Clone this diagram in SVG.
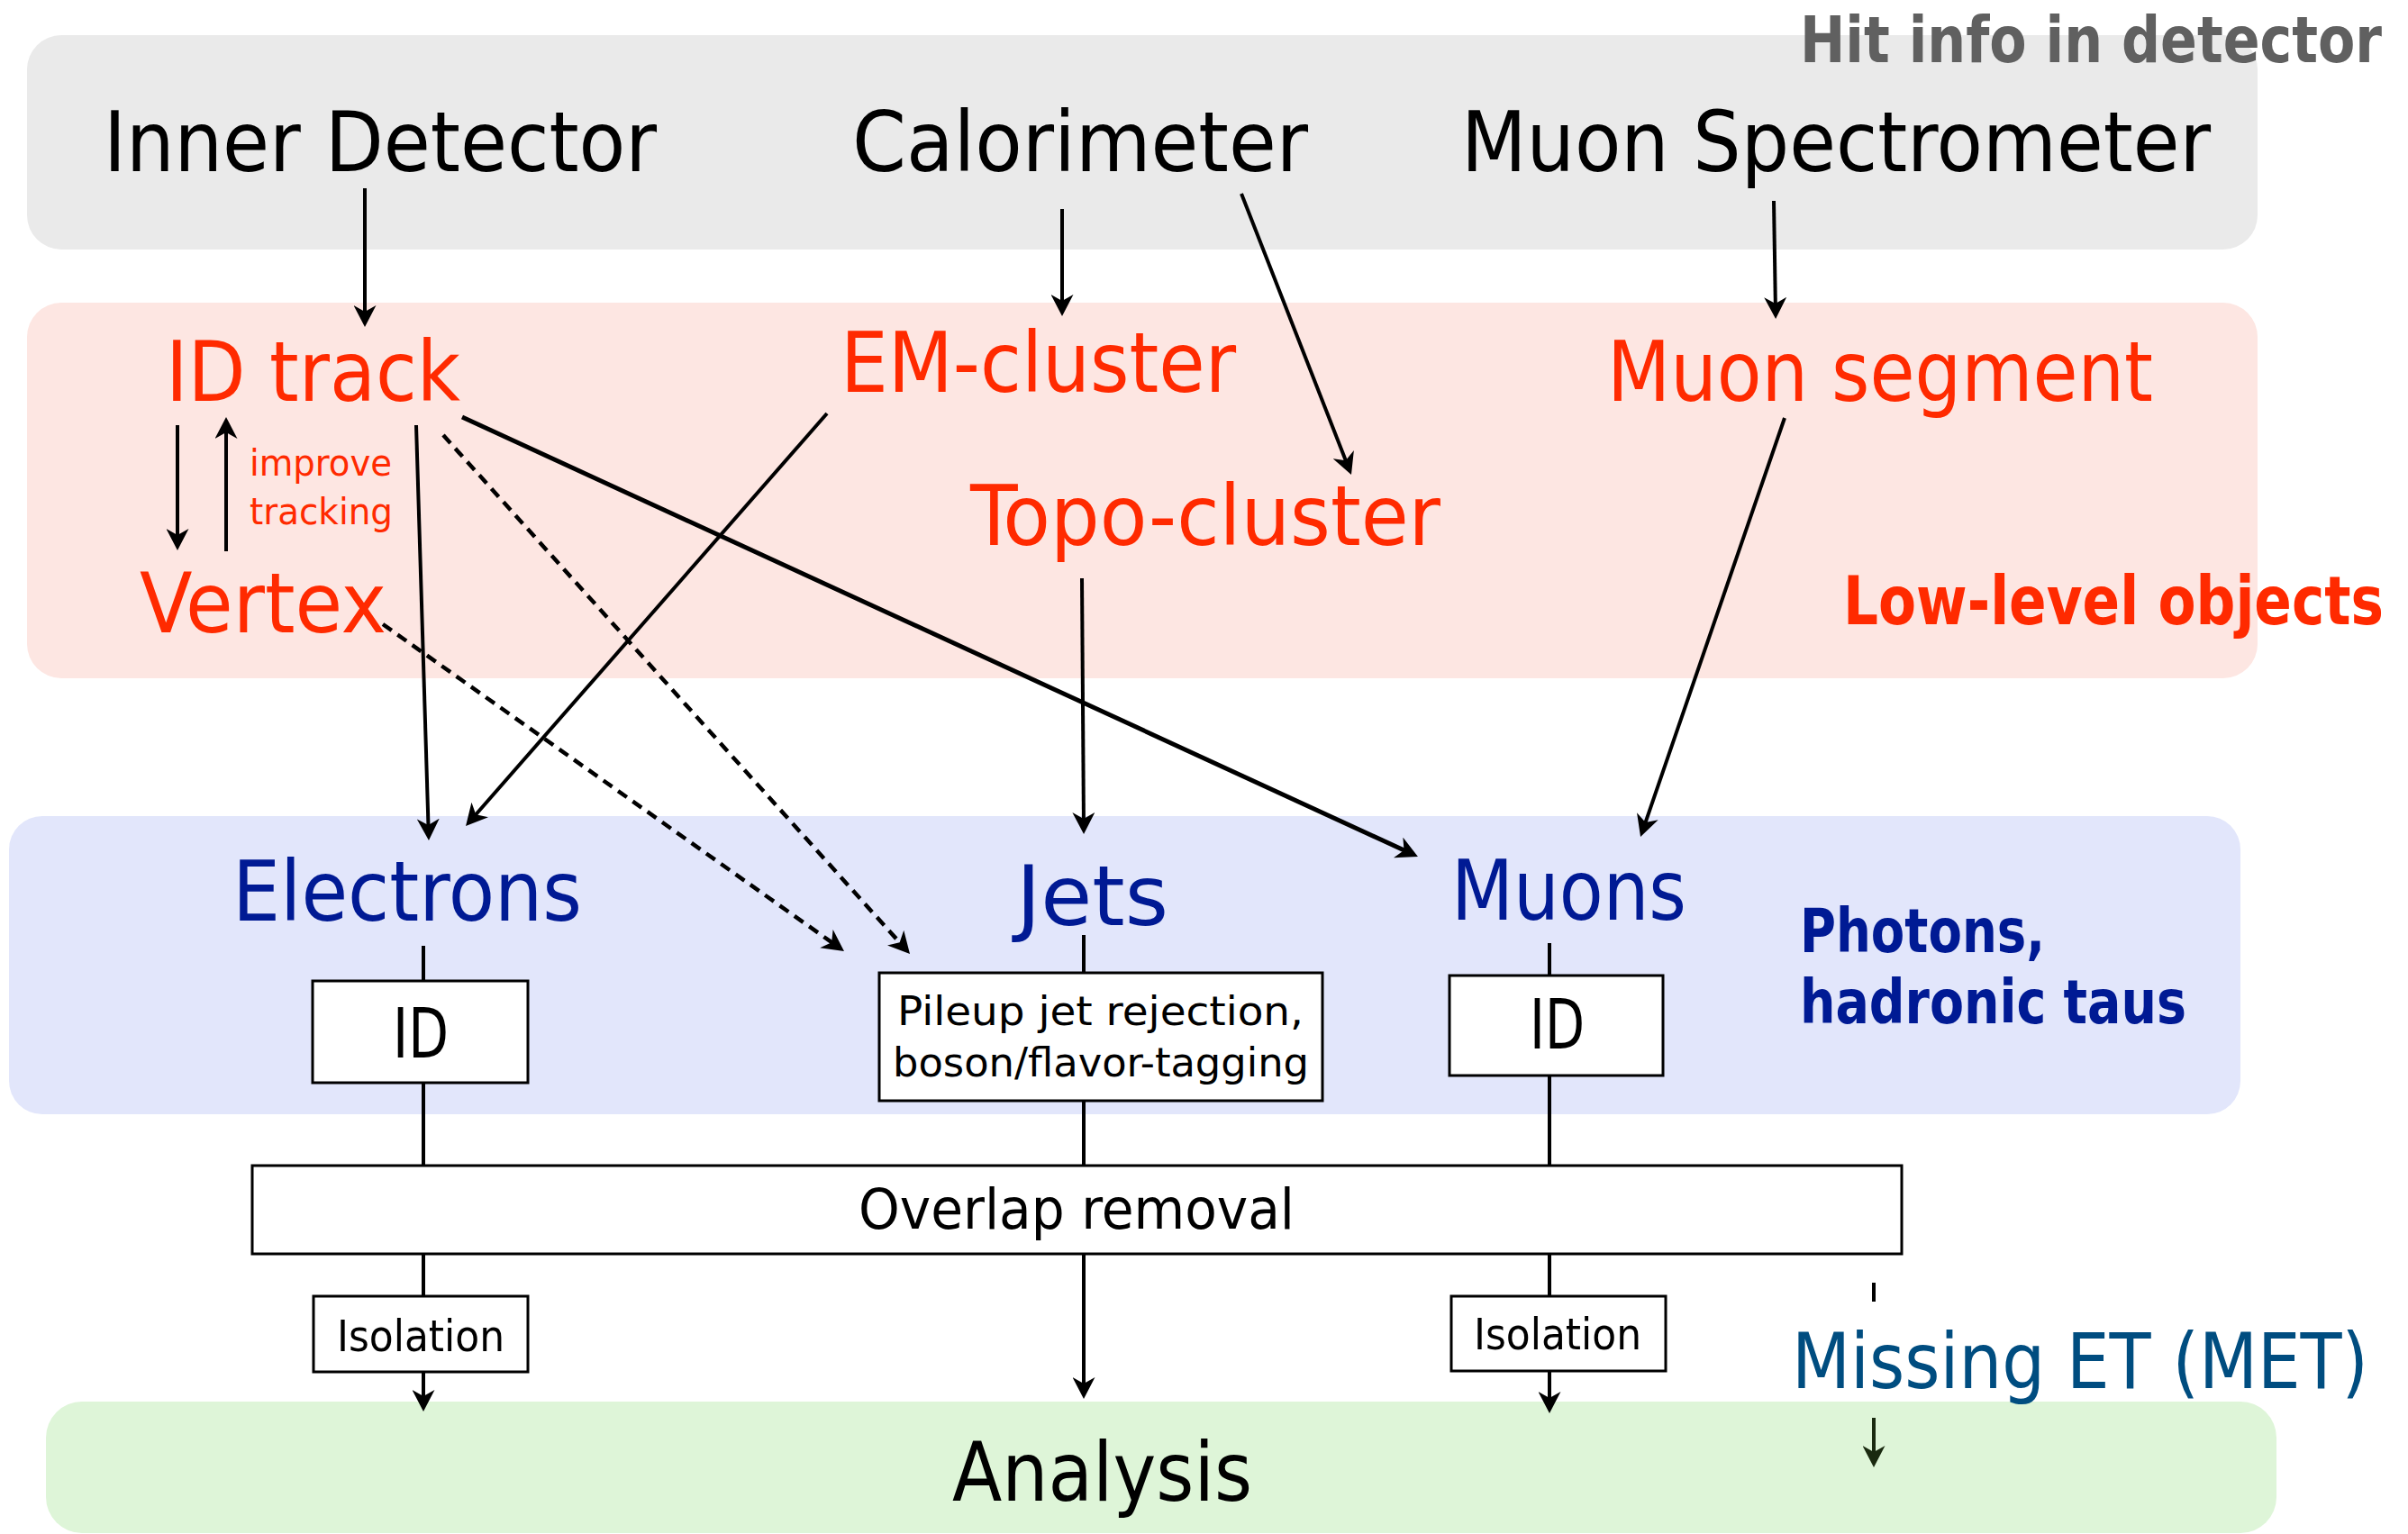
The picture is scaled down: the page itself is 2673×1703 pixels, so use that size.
<svg xmlns="http://www.w3.org/2000/svg" width="2673" height="1703" viewBox="0 0 2673 1703">
<style>
text{font-family:"DejaVu Sans Condensed","DejaVu Sans",sans-serif;}
.big{font-size:93px;}
.blk{fill:#000000;}
.red{fill:#FF2A00;}
.blu{fill:#001A94;}
.box{fill:#FFFFFF;stroke:#000000;stroke-width:3;}
.c{stroke:#000000;stroke-width:4;fill:none;}
.a{marker-end:url(#ah);}
.d{stroke-dasharray:12 8;stroke-width:4.5;}
</style>
<defs>
<marker id="ah" markerUnits="userSpaceOnUse" viewBox="0 0 24 25" markerWidth="24" markerHeight="25" refX="18" refY="12.5" orient="auto">
<path d="M0,0 L24,12.5 L0,25 L7,12.5 z" fill="#000000"/>
</marker>
<marker id="ahg" markerUnits="userSpaceOnUse" viewBox="0 0 24 25" markerWidth="24" markerHeight="25" refX="18" refY="12.5" orient="auto">
<path d="M0,0 L24,12.5 L0,25 L7,12.5 z" fill="#1A2A10"/>
</marker>
</defs>

<g id="layer-hit">
<rect x="30" y="39" width="2476" height="238" rx="38" ry="38" fill="#EAEAEA"/>
</g>
<g id="layer-low">
<rect x="30" y="336" width="2476" height="417" rx="38" ry="38" fill="#FDE6E2"/>
</g>
<g id="layer-obj">
<rect x="10" y="906" width="2477" height="331" rx="37" ry="37" fill="#E2E6FB"/>
</g>
<g id="layer-analysis">
<rect x="51" y="1556" width="2476" height="146" rx="40" ry="40" fill="#DEF5D8"/>
</g>

<g id="connectors">
<line class="c a" x1="405" y1="209" x2="405" y2="357"/>
<line class="c a" x1="1179" y1="232" x2="1179" y2="345"/>
<line class="c a" x1="1378" y1="215" x2="1497.8" y2="521.4"/>
<line class="c a" x1="1969" y1="223" x2="1971" y2="348"/>
<line class="c a" x1="197" y1="472" x2="197" y2="605"/>
<line class="c a" x1="251" y1="612" x2="251" y2="469"/>
<line class="c a" x1="462" y1="472" x2="475.8" y2="927"/>
<line class="c a" x1="918" y1="459" x2="521" y2="912.5"/>
<line class="c a" style="stroke-width:5" x1="513" y1="463" x2="1568.5" y2="948.5"/>
<line class="c a d" x1="492" y1="483" x2="1006" y2="1054.5"/>
<line class="c a d" x1="425" y1="693" x2="932.1" y2="1052.5"/>
<line class="c a" x1="1201" y1="642" x2="1203" y2="920"/>
<line class="c a" x1="1981" y1="464" x2="1823" y2="923.3"/>
<line class="c" x1="470" y1="1050" x2="470" y2="1089"/>
<line class="c" x1="470" y1="1202" x2="470" y2="1294"/>
<line class="c" x1="470" y1="1392" x2="470" y2="1439"/>
<line class="c a" x1="470" y1="1523" x2="470" y2="1561"/>
<line class="c" x1="1203" y1="1038" x2="1203" y2="1080"/>
<line class="c" x1="1203" y1="1222" x2="1203" y2="1294"/>
<line class="c a" x1="1203" y1="1392" x2="1203" y2="1547"/>
<line class="c" x1="1720" y1="1047" x2="1720" y2="1083"/>
<line class="c" x1="1720" y1="1194" x2="1720" y2="1294"/>
<line class="c" x1="1720" y1="1392" x2="1720" y2="1439"/>
<line class="c a" x1="1720" y1="1522" x2="1720" y2="1563"/>
<line class="c" x1="2080" y1="1424" x2="2080" y2="1445"/>
<line class="c" style="stroke:#1A2A10;marker-end:url(#ahg)" x1="2080" y1="1574" x2="2080" y2="1623"/>
</g>

<g id="label-hit">
<text x="1998" y="69" font-size="71" font-weight="bold" fill="#606060" textLength="646" lengthAdjust="spacingAndGlyphs">Hit info in detector</text>
</g>
<g id="node-inner-detector">
<text class="big blk" x="115" y="190" textLength="614" lengthAdjust="spacingAndGlyphs">Inner Detector</text>
</g>
<g id="node-calorimeter">
<text class="big blk" x="946" y="190" textLength="506" lengthAdjust="spacingAndGlyphs">Calorimeter</text>
</g>
<g id="node-muon-spectrometer">
<text class="big blk" x="1622" y="190" textLength="832" lengthAdjust="spacingAndGlyphs">Muon Spectrometer</text>
</g>

<g id="node-id-track">
<text class="big red" x="184" y="445" textLength="327" lengthAdjust="spacingAndGlyphs">ID track</text>
</g>
<g id="node-em-cluster">
<text class="big red" x="933" y="435" textLength="439" lengthAdjust="spacingAndGlyphs">EM-cluster</text>
</g>
<g id="node-muon-segment">
<text class="big red" x="1784" y="445" textLength="606" lengthAdjust="spacingAndGlyphs">Muon segment</text>
</g>
<g id="node-topo-cluster">
<text class="big red" x="1077" y="605" textLength="522" lengthAdjust="spacingAndGlyphs">Topo-cluster</text>
</g>
<g id="node-vertex">
<text class="big red" x="155" y="702" textLength="274" lengthAdjust="spacingAndGlyphs">Vertex</text>
</g>
<g id="label-improve">
<text class="red" x="277" y="528" font-size="40" textLength="158" lengthAdjust="spacingAndGlyphs">improve</text>
<text class="red" x="277" y="582" font-size="40" textLength="159" lengthAdjust="spacingAndGlyphs">tracking</text>
</g>
<g id="label-low-level">
<text class="red" x="2046" y="693" font-size="74" font-weight="bold" textLength="600" lengthAdjust="spacingAndGlyphs">Low-level objects</text>
</g>

<g id="node-electrons">
<text class="big blu" x="258" y="1022" font-size="94" textLength="388" lengthAdjust="spacingAndGlyphs">Electrons</text>
</g>
<g id="node-jets">
<text class="big blu" x="1128" y="1027" textLength="169" lengthAdjust="spacingAndGlyphs">Jets</text>
</g>
<g id="node-muons">
<text class="big blu" x="1611" y="1021" textLength="261" lengthAdjust="spacingAndGlyphs">Muons</text>
</g>
<g id="label-photons">
<text class="blu" x="1998" y="1057" font-size="67" font-weight="bold" textLength="272" lengthAdjust="spacingAndGlyphs">Photons,</text>
<text class="blu" x="1998" y="1136" font-size="67" font-weight="bold" textLength="429" lengthAdjust="spacingAndGlyphs">hadronic taus</text>
</g>

<g id="node-electron-id">
<rect class="box" x="347" y="1089" width="239" height="113"/>
<text class="blk" x="436" y="1174" font-size="77" textLength="62" lengthAdjust="spacingAndGlyphs">ID</text>
</g>
<g id="node-jet-tagging">
<rect class="box" x="976" y="1080" width="492" height="142"/>
<text class="blk" x="996" y="1138" font-size="44" textLength="451" lengthAdjust="spacingAndGlyphs">Pileup jet rejection,</text>
<text class="blk" x="991" y="1195" font-size="44" textLength="462" lengthAdjust="spacingAndGlyphs">boson/flavor-tagging</text>
</g>
<g id="node-muon-id">
<rect class="box" x="1609" y="1083" width="237" height="111"/>
<text class="blk" x="1698" y="1164" font-size="77" textLength="61" lengthAdjust="spacingAndGlyphs">ID</text>
</g>
<g id="node-overlap">
<rect class="box" x="280" y="1294" width="1831" height="98"/>
<text class="blk" x="953" y="1364" font-size="63" textLength="484" lengthAdjust="spacingAndGlyphs">Overlap removal</text>
</g>
<g id="node-electron-isolation">
<rect class="box" x="348" y="1439" width="238" height="84"/>
<text class="blk" x="374" y="1500" font-size="48" textLength="186" lengthAdjust="spacingAndGlyphs">Isolation</text>
</g>
<g id="node-muon-isolation">
<rect class="box" x="1611" y="1439" width="238" height="83"/>
<text class="blk" x="1636" y="1498" font-size="48" textLength="186" lengthAdjust="spacingAndGlyphs">Isolation</text>
</g>
<g id="node-met">
<text x="1989" y="1541" font-size="86" fill="#004D80" textLength="640" lengthAdjust="spacingAndGlyphs">Missing ET (MET)</text>
</g>
<g id="node-analysis">
<text class="blk" x="1057" y="1666" font-size="90" textLength="333" lengthAdjust="spacingAndGlyphs">Analysis</text>
</g>
</svg>
